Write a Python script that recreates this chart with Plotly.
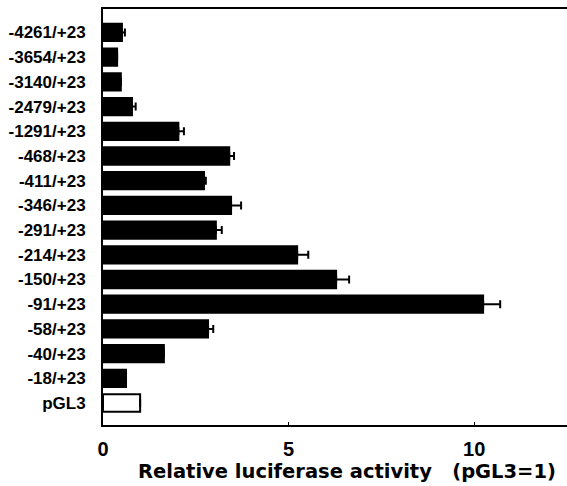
import plotly.graph_objects as go

constructs = ["-4261/+23", "-3654/+23", "-3140/+23", "-2479/+23", "-1291/+23",
              "-468/+23", "-411/+23", "-346/+23", "-291/+23", "-214/+23",
              "-150/+23", "-91/+23", "-58/+23", "-40/+23", "-18/+23", "pGL3"]
activity = [0.51, 0.38, 0.48, 0.78, 2.03, 3.40, 2.72, 3.45, 3.04, 5.23,
            6.28, 10.24, 2.83, 1.64, 0.62, 1.0]
error = [0.08, 0, 0, 0.10, 0.15, 0.13, 0.05, 0.27, 0.16, 0.30,
         0.35, 0.46, 0.14, 0, 0, 0]
x_ticks = [0, 5, 10]

fills = ["white" if c == "pGL3" else "black" for c in constructs]
order = list(reversed(constructs))

fig = go.Figure()
fig.add_trace(go.Bar(
    y=constructs, x=activity, orientation="h", width=0.7,
    marker=dict(color=fills, line=dict(color="black", width=2)),
    error_x=dict(type="data", symmetric=False, array=error,
                 arrayminus=[0] * len(error), color="black", thickness=2, width=4),
))

font = "Liberation Sans, Arial, sans-serif"
wide = "DejaVu Sans, sans-serif"
fig.update_layout(
    width=567, height=486,
    margin=dict(l=103, r=0, t=9, b=61),
    plot_bgcolor="white", paper_bgcolor="white",
    showlegend=False,
    font=dict(family=font, color="black"),
    xaxis=dict(range=[0, 12.5], tickvals=x_ticks, ticktext=[str(v) for v in x_ticks],
               showgrid=False, zeroline=False, showline=True, linecolor="black",
               linewidth=2, mirror=True, ticks="inside", ticklen=3, tickcolor="black",
               tickfont=dict(size=20, family=font, weight="bold"),
               ticklabelstandoff=5),
    yaxis=dict(type="category", categoryorder="array", categoryarray=order,
               range=[-0.89, 15.95], showgrid=False, zeroline=False,
               showline=True, linecolor="black", linewidth=2, ticks="",
               tickfont=dict(size=17, family=font, weight="bold"),
               ticklabelstandoff=12),
    annotations=[dict(text="Relative luciferase activity&nbsp;&nbsp;&nbsp;(pGL3=1)",
                      xref="paper", yref="paper", x=0.525, y=0, yshift=-46,
                      xanchor="center", yanchor="middle", showarrow=False,
                      font=dict(size=19.5, family=wide, weight="bold", color="black"))],
)

fig.write_html("out.html")
